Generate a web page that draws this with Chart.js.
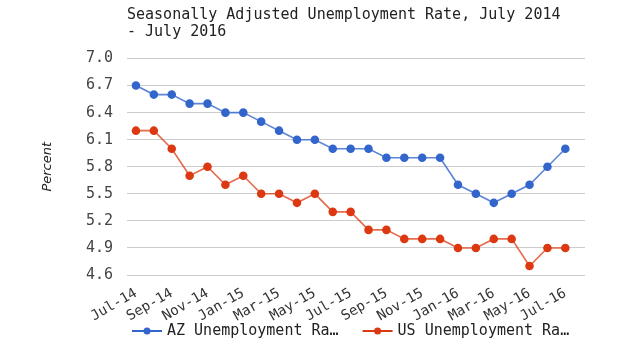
<!DOCTYPE html>
<html>
<head>
<meta charset="utf-8">
<script src="https://cdn.jsdelivr.net/npm/chart.js@4"></script>
<style>
  html, body { margin: 0; padding: 0; background: #fff; }
  #wrap { width: 617px; height: 347px; }
</style>
</head>
<body>
<div id="wrap"><canvas id="rate-chart"></canvas></div>
<script>
// months shown on the chart
const months = ['Jul-14','Aug-14','Sep-14','Oct-14','Nov-14','Dec-14',
                'Jan-15','Feb-15','Mar-15','Apr-15','May-15','Jun-15',
                'Jul-15','Aug-15','Sep-15','Oct-15','Nov-15','Dec-15',
                'Jan-16','Feb-16','Mar-16','Apr-16','May-16','Jun-16','Jul-16'];
const azRate = [6.7, 6.6, 6.6, 6.5, 6.5, 6.4, 6.4, 6.3, 6.2, 6.1, 6.1, 6.0,
                6.0, 6.0, 5.9, 5.9, 5.9, 5.9, 5.6, 5.5, 5.4, 5.5, 5.6, 5.8, 6.0];
const usRate = [6.2, 6.2, 6.0, 5.7, 5.8, 5.6, 5.7, 5.5, 5.5, 5.4, 5.5, 5.3,
                5.3, 5.1, 5.1, 5.0, 5.0, 5.0, 4.9, 4.9, 5.0, 5.0, 4.7, 4.9, 4.9];
const yTicks = [4.6, 4.9, 5.2, 5.5, 5.8, 6.1, 6.4, 6.7, 7.0];
const xTickIndex = [0, 2, 4, 6, 8, 10, 12, 14, 16, 18, 20, 22, 24];
const seriesNames = ['AZ Unemployment Ra\u2026', 'US Unemployment Ra\u2026'];

const blue = '#3366cc';
const red = '#dc3912';
const mono = '"DejaVu Sans Mono", "Liberation Mono", monospace';

function toPoints(values){
    return values.map((v, i) => ({x: i, y: v}));
}

// legend drawn by hand: line with a dot, then the label, under the plot area
const lineLegend = {
    id: 'lineLegend',
    afterDraw(chart){
        const ctx = chart.ctx;
        const area = chart.chartArea;
        let x = area.left + 5;
        const y = area.bottom + 56;
        ctx.save();
        ctx.font = '15px ' + mono;
        ctx.textBaseline = 'middle';
        ctx.textAlign = 'left';
        chart.data.datasets.forEach(ds => {
            const color = ds.pointBackgroundColor;
            ctx.strokeStyle = color;
            ctx.lineWidth = 2;
            ctx.beginPath();
            ctx.moveTo(x, y);
            ctx.lineTo(x + 30, y);
            ctx.stroke();
            ctx.fillStyle = color;
            ctx.beginPath();
            ctx.arc(x + 15, y, 3.5, 0, Math.PI * 2);
            ctx.fill();
            x += 35;
            ctx.fillStyle = '#222';
            ctx.fillText(ds.label, x, y);
            x += ctx.measureText(ds.label).width + 24;
        });
        ctx.restore();
    }
};

const rateConfig = {
    type: 'line',
    data: {
        datasets: [{
            label: seriesNames[0],
            data: toPoints(azRate),
            borderColor: 'rgba(51,102,204,0.8)',
            backgroundColor: blue,
            pointBackgroundColor: blue,
            pointBorderColor: blue,
            pointRadius: 3.5,
            borderWidth: 1.6,
            tension: 0
        }, {
            label: seriesNames[1],
            data: toPoints(usRate),
            borderColor: 'rgba(220,57,18,0.75)',
            backgroundColor: red,
            pointBackgroundColor: red,
            pointBorderColor: red,
            pointRadius: 3.5,
            borderWidth: 1.6,
            tension: 0
        }]
    },
    options: {
        responsive: true,
        maintainAspectRatio: false,
        animation: false,
        layout: {
            padding: {left: 36, right: 32, top: 0, bottom: 20}
        },
        scales: {
            x: {
                type: 'linear',
                min: -0.5,
                max: 25.1,
                grid: {display: false},
                border: {display: false},
                afterBuildTicks: function(scale){
                    scale.ticks = xTickIndex.map(v => ({value: v}));
                },
                afterFit: function(scale){
                    scale.height = 52;
                },
                ticks: {
                    autoSkip: false,
                    minRotation: 30,
                    maxRotation: 30,
                    padding: 2,
                    color: '#333',
                    font: {family: mono, size: 14},
                    callback: function(value){
                        return months[value];
                    }
                }
            },
            y: {
                min: 4.6,
                max: 7.0,
                grid: {color: '#cccccc', lineWidth: 1, drawTicks: false},
                border: {display: false},
                afterBuildTicks: function(scale){
                    scale.ticks = yTicks.map(v => ({value: v}));
                },
                afterFit: function(scale){
                    scale.width = 91;
                },
                ticks: {
                    padding: 14,
                    color: '#444',
                    font: {family: mono, size: 15},
                    callback: function(value){
                        return value.toFixed(1);
                    }
                },
                title: {
                    display: true,
                    text: 'Percent',
                    color: '#222',
                    padding: {top: 4, bottom: 0},
                    font: {family: '"DejaVu Sans", sans-serif', size: 13, style: 'italic'}
                }
            }
        },
        plugins: {
            title: {
                display: true,
                text: ['Seasonally Adjusted Unemployment Rate, July 2014', '- July 2016'],
                align: 'start',
                fullSize: false,
                color: '#222',
                padding: {top: 6, bottom: 18},
                font: {family: mono, size: 15, weight: 'normal', lineHeight: 1.15}
            },
            legend: {display: false},
            tooltip: {enabled: false}
        }
    },
    plugins: [lineLegend]
};

const rateChart = new Chart(document.getElementById('rate-chart'), rateConfig);
</script>
</body>
</html>
